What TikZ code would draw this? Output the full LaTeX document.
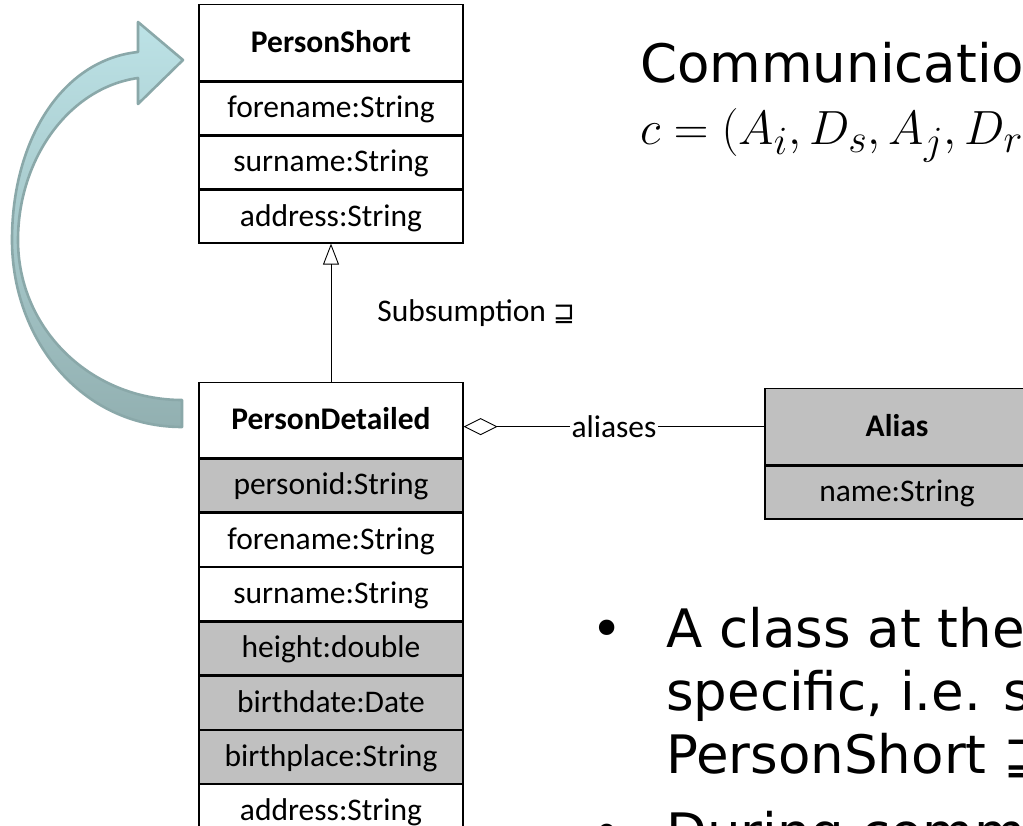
\documentclass[tikz,border=0pt]{standalone}
\usepackage{fontspec}
\setmainfont{Carlito}
\newfontfamily\slidefont{DejaVu Sans}
\usetikzlibrary{arrows.meta}
\definecolor{umlgray}{RGB}{192,192,192}
\definecolor{arrowline}{RGB}{138,168,169}
\definecolor{arrowtop}{RGB}{188,226,230}
\definecolor{arrowbot}{RGB}{146,176,177}

\begin{document}
\begin{tikzpicture}[x=1pt,y=-1pt,
  umlrow/.style={draw=black, line width=1.3pt, minimum width=264pt,
    minimum height=53pt, inner sep=0pt, anchor=north,
    text height=26pt, text depth=7pt,
    font=\fontsize{31.5}{36}\selectfont},
  umlhead/.style={umlrow, font=\fontsize{31.5}{36}\selectfont\bfseries},
  grayrow/.style={fill=umlgray},
  conn/.style={draw=black, line width=0.9pt},
  slide/.style={font=\slidefont\fontsize{53}{63}\selectfont, inner sep=0pt,
    anchor=base west},
  bigarrow/.style={draw=arrowline, line width=2.6pt, line join=round,
    top color=arrowtop, bottom color=arrowbot}
]
\useasboundingbox (0,0) rectangle (1023,826);
\fill[white] (0,0) rectangle (1023,826);
\clip (0,0) rectangle (1023,826);

% curved block arrow from PersonDetailed up to PersonShort
\path[bigarrow]
  (182,427) .. controls (82,427) and (12,340) .. (12,240)
  .. controls (12,140) and (62,60) .. (138,52)
  -- (138,22) -- (183,60) -- (138,104) -- (138,78)
  .. controls (68,88) and (18,160) .. (18,240)
  .. controls (18,330) and (92,400) .. (182,400) -- cycle;

% class PersonShort
\node[umlhead, minimum height=76pt] (ps0) at (331,4) {PersonShort};
\node[umlrow, minimum height=52.8pt] (ps1) at (ps0.south) {forename:String};
\node[umlrow, minimum height=52.8pt] (ps2) at (ps1.south) {surname:String};
\node[umlrow, minimum height=52.8pt] (ps3) at (ps2.south) {address:String};

% class PersonDetailed
\node[umlhead, minimum height=75pt] (pd0) at (331,382) {PersonDetailed};
\node[umlrow, grayrow] (pd1) at (pd0.south) {personid:String};
\node[umlrow] (pd2) at (pd1.south) {forename:String};
\node[umlrow] (pd3) at (pd2.south) {surname:String};
\node[umlrow, grayrow] (pd4) at (pd3.south) {height:double};
\node[umlrow, grayrow] (pd5) at (pd4.south) {birthdate:Date};
\node[umlrow, grayrow] (pd6) at (pd5.south) {birthplace:String};
\node[umlrow] (pd7) at (pd6.south) {address:String};

% class Alias
\node[umlhead, grayrow, minimum height=76pt] (al0) at (897,388) {Alias};
\node[umlrow, grayrow] (al1) at (al0.south) {name:String};

% generalisation
\draw[conn, -{Triangle[open, length=21pt, width=16pt]}] (pd0.north) -- (ps3.south)
  node[midway, right=46pt, inner sep=0pt, font=\fontsize{31.5}{36}\selectfont] (sub)
  {Subsumption {\slidefont\fontsize{26}{30}\selectfont ⊒}};

% aggregation
\draw[conn, {Diamond[open, length=34pt, width=17pt]}-] (pd0.east |- al0.west) -- (al0.west)
  node[pos=0.5, fill=white, inner sep=2pt, font=\fontsize{31.5}{36}\selectfont] (agg) {aliases};

% slide text
\node[slide] (title) at (640,83) {Communicatio};
\node[anchor=base west, inner sep=0pt] (formula) at (640,145)
  {\scalebox{1.93}{\fontsize{24.88}{30}\selectfont $c = (A_i, D_s, A_j, D_r$}};

\node[slide, anchor=base] (dot1) at (607,647) {•};
\node[slide] (b1) at (666,647) {A class at the};
\node[slide] (b2) at (666,710) {specific, i.e. s};
\node[slide] (b3) at (666,773) {PersonShort ⊒};
\node[slide, anchor=base] (dot2) at (607,851) {•};
\node[slide] (b4) at (666,851) {During comm};
\end{tikzpicture}
\end{document}
